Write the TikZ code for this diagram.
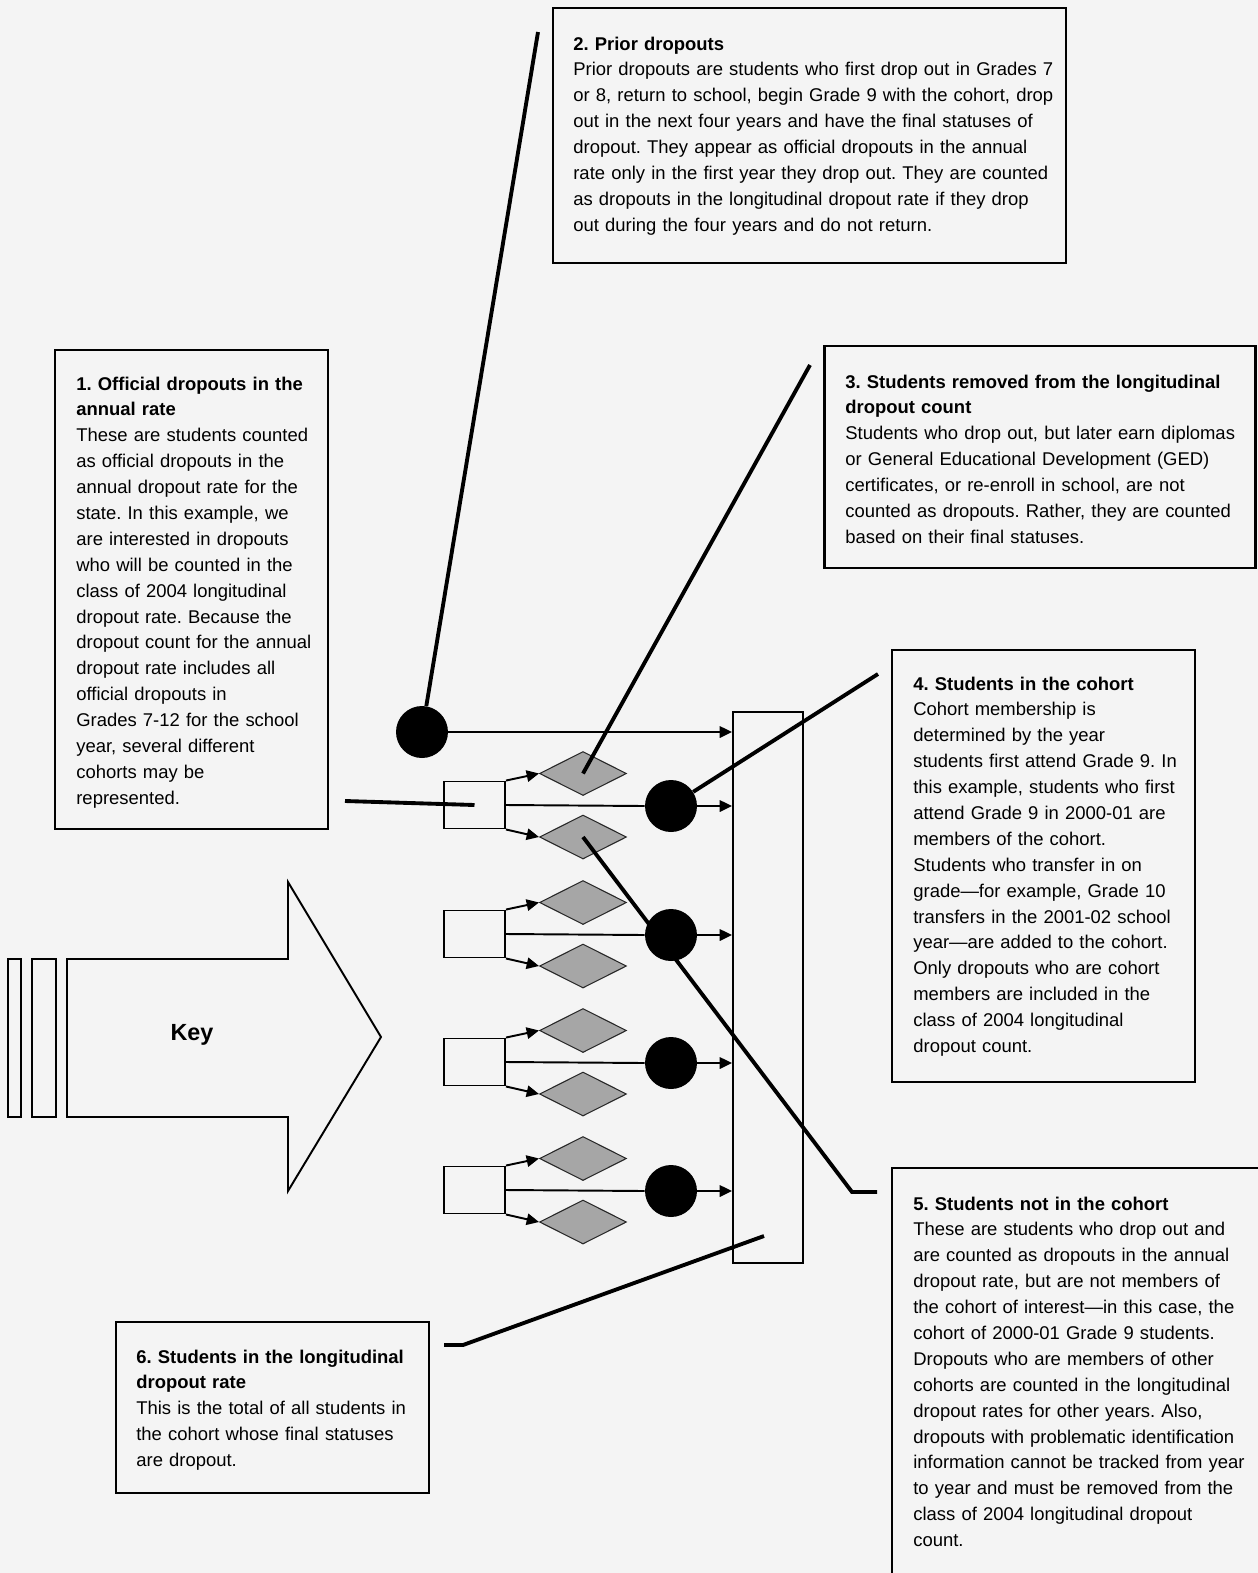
\documentclass[tikz,border=0pt]{standalone}
\usepackage{fontspec}
\setmainfont{Liberation Sans}
\frenchspacing
\usetikzlibrary{arrows.meta,shapes.geometric}
\definecolor{pagebg}{RGB}{244,244,244}
\definecolor{diagray}{RGB}{166,166,166}
\tikzset{
  infobox/.style={draw, line width=1.6pt, inner sep=0pt},
  infotext/.style={anchor=base west, align=left, inner sep=0pt,
                   text width=#1, font=\fontsize{10.5}{14.74}\selectfont},
  infotext/.default=7.2cm,
  fulldot/.style={circle, fill=black, minimum size=1.04cm, inner sep=0pt},
  gradebox/.style={draw, line width=1.1pt, minimum width=1.22cm,
                   minimum height=0.94cm, inner sep=0pt},
  statdia/.style={diamond, draw=black!85, line width=0.6pt, fill=diagray,
                  minimum width=1.74cm, minimum height=0.88cm, inner sep=0pt},
  tallybox/.style={draw, line width=1.1pt, minimum width=1.4cm,
                   minimum height=11.02cm, inner sep=0pt},
  leader/.style={line width=2.2pt},
  tie/.style={line width=1.1pt},
  arr/.style={line width=1.1pt, -{Triangle[length=7pt,width=6.5pt]}},
}

\begin{document}
\begin{tikzpicture}[x=0.02cm,y=-0.02cm]
  \clip (0,0) rectangle (1258,1573);
  \fill[pagebg] (0,0) rectangle (1258,1573);

  % explanation boxes
  \node[infobox, minimum width=5.46cm, minimum height=9.58cm] (b1) at (191.5,589.5) {};
  \node[infobox, minimum width=10.26cm, minimum height=5.1cm] (b2) at (809.5,135.5) {};
  \node[infobox, minimum width=8.62cm, minimum height=4.44cm] (b3) at (1040,457) {};
  \node[infobox, minimum width=6.06cm, minimum height=8.64cm] (b4) at (1043.5,866) {};
  \node[infobox, minimum width=7.96cm, minimum height=9.04cm] (b5) at (1091,1394) {};
  \node[infobox, minimum width=6.26cm, minimum height=3.42cm] (b6) at (272.5,1407.5) {};

  \node[infotext=5cm] (t1) at (76,390)
    {\textbf{1. Official dropouts in the}\\\textbf{annual rate}\\
     These are students counted\\as official dropouts in the\\
     annual dropout rate for the\\state. In this example, we\\
     are interested in dropouts\\who will be counted in the\\
     class of 2004 longitudinal\\dropout rate. Because the\\
     dropout count for the annual\\dropout rate includes all\\
     official dropouts in\\Grades 7-12 for the school\\
     year, several different\\cohorts may be\\represented.};
  \node[infotext=10cm] (t2) at (573,50)
    {\textbf{2. Prior dropouts}\\
     Prior dropouts are students who first drop out in Grades 7\\
     or 8, return to school, begin Grade 9 with the cohort, drop\\
     out in the next four years and have the final statuses of\\
     dropout. They appear as official dropouts in the annual\\
     rate only in the first year they drop out. They are counted\\
     as dropouts in the longitudinal dropout rate if they drop\\
     out during the four years and do not return.};
  \node[infotext=8cm] (t3) at (845,388)
    {\textbf{3. Students removed from the longitudinal}\\\textbf{dropout count}\\
     Students who drop out, but later earn diplomas\\
     or General Educational Development (GED)\\
     certificates, or re-enroll in school, are not\\
     counted as dropouts. Rather, they are counted\\
     based on their final statuses.};
  \node[infotext=5.8cm] (t4) at (913,690)
    {\textbf{4. Students in the cohort}\\
     Cohort membership is\\determined by the year\\
     students first attend Grade 9. In\\this example, students who first\\
     attend Grade 9 in 2000-01 are\\members of the cohort.\\
     Students who transfer in on\\grade—for example, Grade 10\\
     transfers in the 2001-02 school\\year—are added to the cohort.\\
     Only dropouts who are cohort\\members are included in the\\
     class of 2004 longitudinal\\dropout count.};
  \node[infotext] (t5) at (913,1210)
    {\textbf{5. Students not in the cohort}\\
     These are students who drop out and\\are counted as dropouts in the annual\\
     dropout rate, but are not members of\\the cohort of interest—in this case, the\\
     cohort of 2000-01 Grade 9 students.\\Dropouts who are members of other\\
     cohorts are counted in the longitudinal\\dropout rates for other years. Also,\\
     dropouts with problematic identification\\information cannot be tracked from year\\
     to year and must be removed from the\\class of 2004 longitudinal dropout\\
     count.};
  \node[infotext=6cm] (t6) at (136,1363)
    {\textbf{6. Students in the longitudinal}\\\textbf{dropout rate}\\
     This is the total of all students in\\the cohort whose final statuses\\
     are dropout.};

  % key arrow
  \draw[line width=1.1pt] (8,959) rectangle (21,1117);
  \draw[line width=1.1pt] (32,959) rectangle (56,1117);
  \draw[line width=1.1pt] (67,959) -- (288,959) -- (288,882) -- (381,1037)
    -- (288,1191) -- (288,1117) -- (67,1117) -- cycle;
  \node[font=\fontsize{13.3}{16}\selectfont\bfseries] (key) at (192,1035) {Key};

  % flow
  \node[tallybox] (long) at (768,987.5) {};
  \node[fulldot] (c0) at (422,732) {};
  \draw[arr] (c0) -- (c0 -| long.west);
  \foreach \i/\y in {1/805,2/934,3/1062,4/1190}{
    \node[gradebox] (s\i) at (474.5,\y) {};
    \node[statdia] (da\i) at (583,\y-31.5) {};
    \node[statdia] (db\i) at (583,\y+32) {};
    \node[fulldot] (c\i) at (671,\y+1) {};
    \draw[arr] (s\i.north east) -- (da\i.west);
    \draw[arr] (s\i.south east) -- (db\i.west);
    \draw[tie] (s\i.east) -- (c\i.west);
    \draw[arr] (c\i) -- (c\i -| long.west);
  }

  % leaders
  \coordinate (p1) at (345,801);
  \coordinate (p2) at (538,32);
  \coordinate (p3) at (810,365);
  \coordinate (p4) at (878,674);
  \coordinate (k5) at (852,1192);
  \coordinate (p5) at (877,1192);
  \coordinate (p6) at (444,1345);
  \coordinate (k6) at (463,1345);
  \coordinate (q6) at (764,1236);
  \draw[leader] (p1) -- (s1.center);
  \draw[leader] (p2) -- (c0);
  \draw[leader] (p3) -- (da1.center);
  \draw[leader] (p4) -- (c1);
  \draw[leader] (db1.center) -- (k5) -- (p5);
  \draw[leader] (p6) -- (k6) -- (q6);
\end{tikzpicture}
\end{document}
